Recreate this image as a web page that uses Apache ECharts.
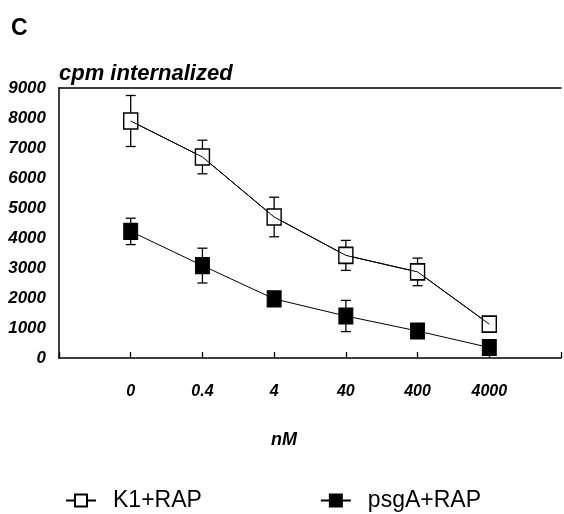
<!DOCTYPE html>
<html>
<head>
<meta charset="utf-8">
<script src="https://cdn.jsdelivr.net/npm/echarts@6/dist/echarts.min.js"></script>
<style>html,body{margin:0;padding:0;background:#fff;}#c{width:564px;height:514px;}</style>
</head>
<body>
<div id="c"></div>
<script>
var doses = ['0', '0.4', '4', '40', '400', '4000'];
var k1Mean = [7900, 6700, 4700, 3420, 2870, 1130];
var k1Err  = [850, 560, 660, 500, 460, 0];
var psgMean = [4220, 3080, 1970, 1400, 900, 350];
var psgErr  = [440, 580, 0, 520, 0, 0];
var yTicks = [0, 1000, 2000, 3000, 4000, 5000, 6000, 7000, 8000, 9000];

function pts(arr) { return arr.map(function (v, i) { return [i, v]; }); }
function errData(mean, err) {
  var out = [];
  mean.forEach(function (m, i) { if (err[i] > 0) out.push([i, m - err[i], m + err[i]]); });
  return out;
}
function errRender(params, api) {
  var x = api.value(0);
  var lo = api.coord([x, api.value(1)]);
  var hi = api.coord([x, api.value(2)]);
  var cw = 5;
  var st = { stroke: '#000', lineWidth: 1.3 };
  return { type: 'group', children: [
    { type: 'line', shape: { x1: lo[0], y1: lo[1], x2: hi[0], y2: hi[1] }, style: st },
    { type: 'line', shape: { x1: hi[0] - cw, y1: hi[1], x2: hi[0] + cw, y2: hi[1] }, style: st },
    { type: 'line', shape: { x1: lo[0] - cw, y1: lo[1], x2: lo[0] + cw, y2: lo[1] }, style: st }
  ]};
}
var bi = { fontFamily: 'Liberation Sans, Arial, sans-serif', fontWeight: 'bold', fontStyle: 'italic', color: '#000' };

var chart = echarts.init(document.getElementById('c'), null, { renderer: 'canvas' });
chart.setOption({
  animation: false,
  backgroundColor: '#fff',
  title: [
    { text: 'C', left: 6, top: 12, textStyle: { fontFamily: 'Liberation Sans, Arial, sans-serif', fontWeight: 'bold', fontSize: 23, color: '#000' } },
    { text: 'nM', left: 266, top: 426, textStyle: Object.assign({ fontSize: 18 }, bi) }
  ],
  grid: { left: 59, top: 88, right: 1, bottom: 156, containLabel: false },
  legend: {
    data: ['K1+RAP', 'psgA+RAP'],
    left: 60, top: 484, itemGap: 118, itemWidth: 30, itemHeight: 15,
    textStyle: { fontFamily: 'Liberation Sans, Arial, sans-serif', fontSize: 23, color: '#000', padding: [0, 0, 0, 12] }
  },
  xAxis: [
    {
      type: 'value', min: -1, max: 6, interval: 1,
      axisLine: { show: true, onZero: false, lineStyle: { color: '#000', width: 1.5 } },
      axisTick: { show: true, inside: true, length: 6, lineStyle: { color: '#000', width: 1.3 } },
      splitLine: { show: false },
      axisLabel: Object.assign({ fontSize: 16, margin: 26, formatter: function (v) { return doses[v] !== undefined ? doses[v] : ''; } }, bi)
    },
    {
      type: 'value', min: -1, max: 6, position: 'top',
      axisLine: { show: true, onZero: false, lineStyle: { color: '#000', width: 1.5 } },
      axisTick: { show: false }, axisLabel: { show: false }, splitLine: { show: false }
    }
  ],
  yAxis: {
    type: 'value', min: 0, max: 9000, interval: 1000,
    name: 'cpm internalized', nameLocation: 'end', nameGap: 3,
    nameTextStyle: Object.assign({ fontSize: 22, align: 'left', verticalAlign: 'bottom' }, bi),
    axisLine: { show: true, onZero: false, lineStyle: { color: '#000', width: 1.5 } },
    axisTick: { show: false },
    splitLine: { show: false },
    axisLabel: Object.assign({ fontSize: 17, margin: 13, padding: [7, 0, 0, 0], formatter: function (v) { return yTicks.indexOf(v) >= 0 ? String(v) : ''; } }, bi)
  },
  series: [
    { type: 'custom', name: 'k1err', renderItem: errRender, data: errData(k1Mean, k1Err), z: 1, silent: true },
    { type: 'custom', name: 'psgerr', renderItem: errRender, data: errData(psgMean, psgErr), z: 1, silent: true },
    {
      type: 'line', name: 'K1+RAP', data: pts(k1Mean), z: 2,
      symbol: 'rect', symbolSize: [14, 16],
      lineStyle: { color: '#000', width: 1 },
      itemStyle: { color: '#fff', borderColor: '#000', borderWidth: 1.5 }
    },
    {
      type: 'line', name: 'psgA+RAP', data: pts(psgMean), z: 2,
      symbol: 'rect', symbolSize: [14, 16],
      lineStyle: { color: '#000', width: 1 },
      itemStyle: { color: '#000', borderColor: '#000', borderWidth: 1 }
    },
    { type: 'line', name: 'k1line', data: pts(k1Mean), z: 3, showSymbol: false, silent: true, lineStyle: { color: '#000', width: 1 } }
  ]
});
</script>
</body>
</html>
